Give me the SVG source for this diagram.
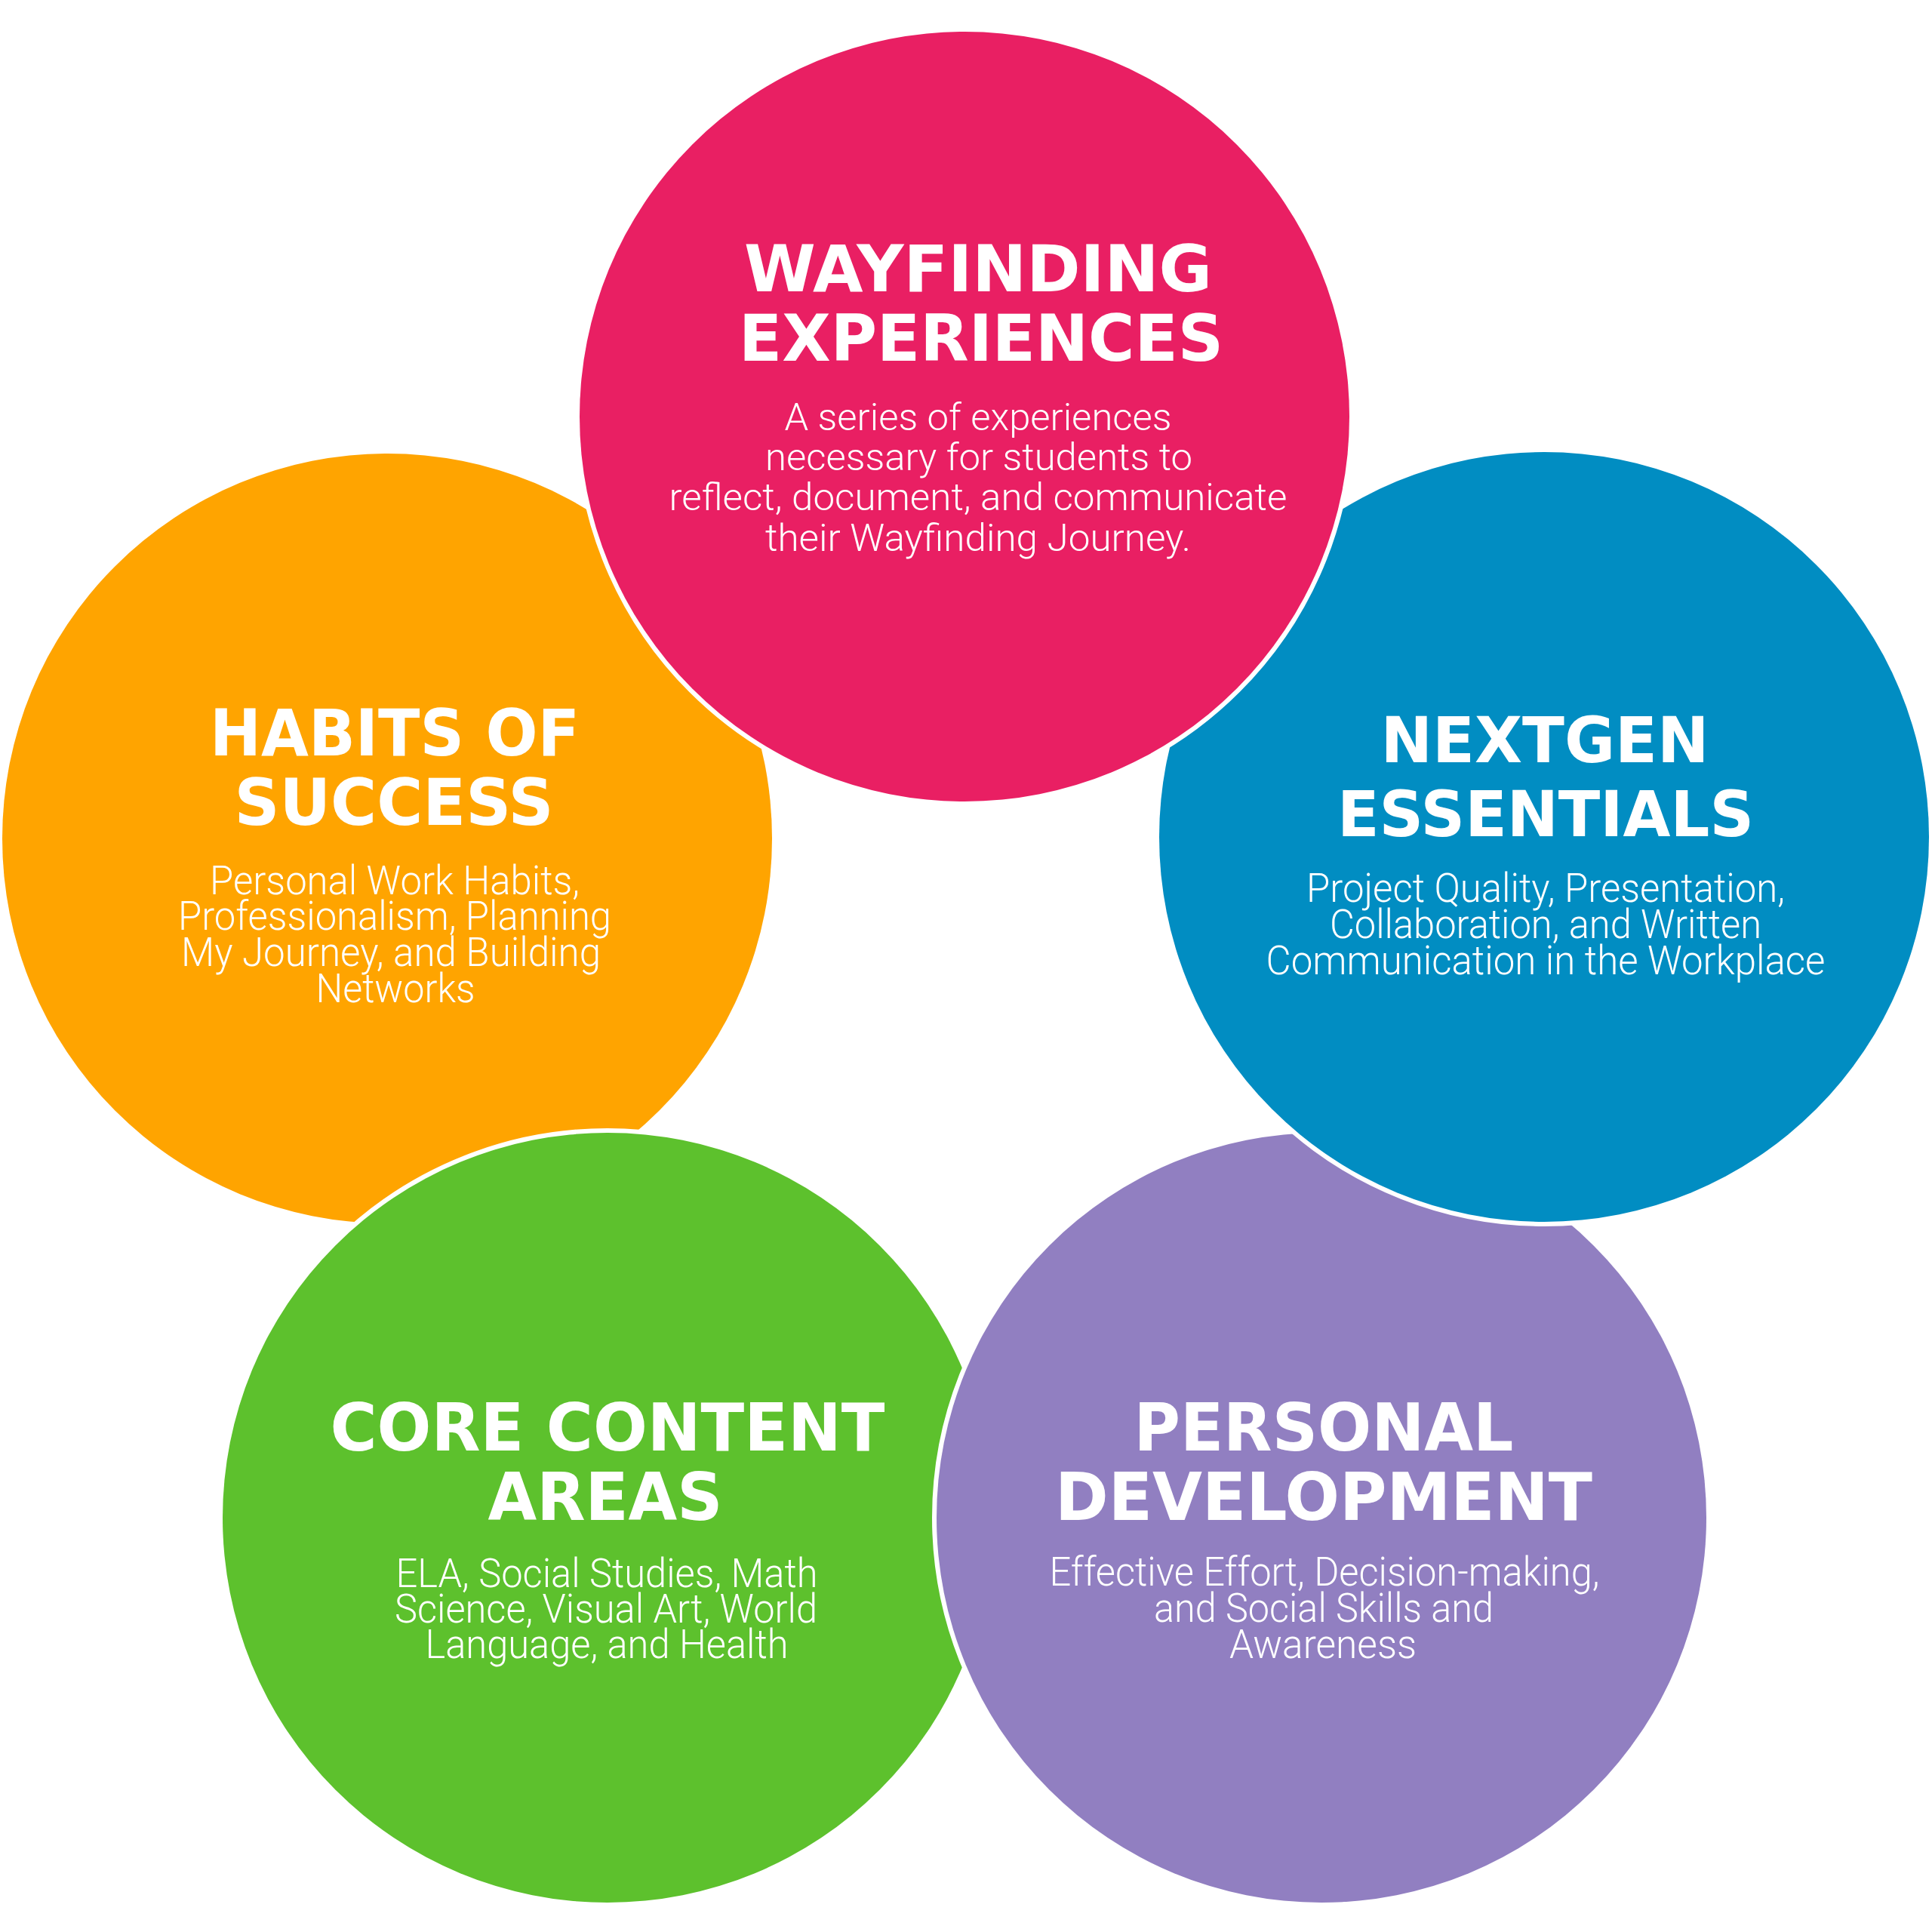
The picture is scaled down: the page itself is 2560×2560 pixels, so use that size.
<svg xmlns="http://www.w3.org/2000/svg" width="2560" height="2560" viewBox="0 0 2560 2560">
<style>
.c{stroke:#fff;stroke-width:12;paint-order:stroke}
.t{font-family:"DejaVu Sans","Liberation Sans",sans-serif;font-weight:bold;fill:#fff;text-anchor:middle}
.b{font-family:Roboto,"Liberation Sans",sans-serif;font-weight:300;fill:#fff;text-anchor:middle}
</style>
<rect width="2560" height="2560" fill="#fff"/>
<g id="habits">
<circle class="c" cx="513" cy="1111" r="510" fill="#FFA400"/>
<text class="t" font-size="85" x="523" y="1001" textLength="490" lengthAdjust="spacingAndGlyphs">HABITS OF</text>
<text class="t" font-size="85" x="522" y="1093" textLength="423" lengthAdjust="spacingAndGlyphs">SUCCESS</text>
<text class="b" font-size="53" x="523" y="1185" textLength="490" lengthAdjust="spacingAndGlyphs">Personal Work Habits,</text>
<text class="b" font-size="53" x="523" y="1232" textLength="574" lengthAdjust="spacingAndGlyphs">Professionalism, Planning</text>
<text class="b" font-size="53" x="518" y="1280" textLength="556" lengthAdjust="spacingAndGlyphs">My Journey, and Building</text>
<text class="b" font-size="53" x="524" y="1328" textLength="211" lengthAdjust="spacingAndGlyphs">Networks</text>
</g>
<g id="core">
<circle class="c" cx="805" cy="2011" r="510" fill="#5DC12D"/>
<text class="t" font-size="88" x="805" y="1922" textLength="735" lengthAdjust="spacingAndGlyphs">CORE CONTENT</text>
<text class="t" font-size="88" x="802" y="2014" textLength="311" lengthAdjust="spacingAndGlyphs">AREAS</text>
<text class="b" font-size="54" x="804" y="2103" textLength="559" lengthAdjust="spacingAndGlyphs">ELA, Social Studies, Math</text>
<text class="b" font-size="54" x="803" y="2150" textLength="560" lengthAdjust="spacingAndGlyphs">Science, Visual Art, World</text>
<text class="b" font-size="54" x="804" y="2197" textLength="481" lengthAdjust="spacingAndGlyphs">Language, and Health</text>
</g>
<g id="personal">
<circle class="c" cx="1751" cy="2011" r="510" fill="#917FC1"/>
<text class="t" font-size="88" x="1754" y="1922" textLength="503" lengthAdjust="spacingAndGlyphs">PERSONAL</text>
<text class="t" font-size="88" x="1754" y="2014" textLength="712" lengthAdjust="spacingAndGlyphs">DEVELOPMENT</text>
<text class="b" font-size="54" x="1755" y="2101" textLength="729" lengthAdjust="spacingAndGlyphs">Effective Effort, Decision-making,</text>
<text class="b" font-size="54" x="1754" y="2149" textLength="450" lengthAdjust="spacingAndGlyphs">and Social Skills and</text>
<text class="b" font-size="54" x="1753" y="2197" textLength="248" lengthAdjust="spacingAndGlyphs">Awareness</text>
</g>
<g id="nextgen">
<circle class="c" cx="2046" cy="1109" r="510" fill="#018DC2"/>
<text class="t" font-size="84" x="2047" y="1010" textLength="435" lengthAdjust="spacingAndGlyphs">NEXTGEN</text>
<text class="t" font-size="84" x="2048" y="1108" textLength="552" lengthAdjust="spacingAndGlyphs">ESSENTIALS</text>
<text class="b" font-size="54" x="2048" y="1195" textLength="634" lengthAdjust="spacingAndGlyphs">Project Quality, Presentation,</text>
<text class="b" font-size="54" x="2048" y="1243" textLength="572" lengthAdjust="spacingAndGlyphs">Collaboration, and Written</text>
<text class="b" font-size="54" x="2048" y="1291" textLength="741" lengthAdjust="spacingAndGlyphs">Communication in the Workplace</text>
</g>
<g id="wayfinding">
<circle class="c" cx="1278" cy="552" r="510" fill="#E91F63"/>
<text class="t" font-size="85" x="1296" y="386" textLength="620" lengthAdjust="spacingAndGlyphs">WAYFINDING</text>
<text class="t" font-size="85" x="1300" y="478" textLength="642" lengthAdjust="spacingAndGlyphs">EXPERIENCES</text>
<text class="b" font-size="50" x="1296" y="570" textLength="513" lengthAdjust="spacingAndGlyphs">A series of experiences</text>
<text class="b" font-size="50" x="1297" y="623" textLength="566" lengthAdjust="spacingAndGlyphs">necessary for students to</text>
<text class="b" font-size="50" x="1296" y="676" textLength="819" lengthAdjust="spacingAndGlyphs">reflect, document, and communicate</text>
<text class="b" font-size="50" x="1296" y="730" textLength="564" lengthAdjust="spacingAndGlyphs">their Wayfinding Journey.</text>
</g>
<g id="connectors"/>
</svg>
